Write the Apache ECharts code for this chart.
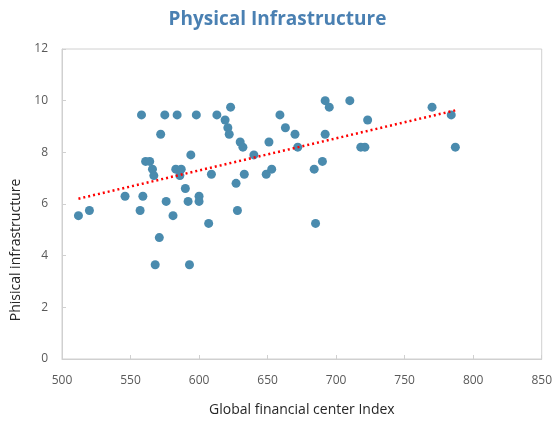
<!DOCTYPE html>
<html>
<head>
<meta charset="utf-8">
<script src="https://cdn.jsdelivr.net/npm/echarts@6/dist/echarts.min.js"></script>
<style>
  html, body { margin: 0; padding: 0; background: #fff; }
  #chart { width: 555px; height: 427px; }
</style>
</head>
<body>
<div id="chart"></div>
<script>
const gfci = [
  512, 520, 546, 557, 559, 558, 561, 564, 566, 567, 572, 571, 568, 575, 576, 581,
  584, 583, 587, 586, 590, 592, 594, 593, 598, 600, 600, 607, 609, 613, 619, 621,
  622, 623, 627, 628, 630, 632, 633, 640, 649, 653, 651, 659, 663, 670, 672, 684,
  685, 690, 692, 692, 695, 710, 723, 718, 721, 770, 784, 787
];
const infra = [
  5.55, 5.75, 6.3, 5.75, 6.3, 9.45, 7.65, 7.65, 7.35, 7.1, 8.7, 4.7, 3.65, 9.45, 6.1, 5.55,
  9.45, 7.35, 7.35, 7.1, 6.6, 6.1, 7.9, 3.65, 9.45, 6.3, 6.1, 5.25, 7.15, 9.45, 9.25, 8.95,
  8.7, 9.75, 6.8, 5.75, 8.4, 8.2, 7.15, 7.9, 7.15, 7.35, 8.4, 9.45, 8.95, 8.7, 8.2, 7.35,
  5.25, 7.65, 8.7, 10.0, 9.75, 10.0, 9.25, 8.2, 8.2, 9.75, 9.45, 8.2
];
const xTicks = [500, 850, 50];
const yTicks = [0, 12, 2];

const points = gfci.map((x, i) => [x, infra[i]]);

// least squares trendline over the data range
function trend(xs, ys) {
  const n = xs.length;
  const mx = xs.reduce((a, b) => a + b, 0) / n;
  const my = ys.reduce((a, b) => a + b, 0) / n;
  let sxy = 0, sxx = 0;
  xs.forEach((x, i) => { sxy += (x - mx) * (ys[i] - my); sxx += (x - mx) * (x - mx); });
  const b = sxy / sxx;
  const a = my - b * mx;
  const lo = Math.min(...xs), hi = Math.max(...xs);
  return [[lo, a + b * lo], [hi, a + b * hi]];
}

const gray = "#595959";
const lineGray = "#d0d0d0";
const chart = echarts.init(document.getElementById("chart"));

chart.setOption({
  animation: false,
  textStyle: { fontFamily: "Open Sans, Noto Sans, sans-serif" },
  title: {
    text: "Physical Infrastructure",
    left: "center",
    top: 5,
    textStyle: { color: "#4a80b2", fontSize: 19, fontWeight: "bold", fontFamily: "Open Sans, sans-serif" }
  },
  grid: { left: 62, right: 13, top: 49, bottom: 68, show: true, borderColor: lineGray, borderWidth: 1 },
  xAxis: {
    type: "value",
    min: xTicks[0],
    max: xTicks[1],
    interval: xTicks[2],
    name: "Global financial center Index",
    nameLocation: "middle",
    nameGap: 44,
    nameTextStyle: { color: "#262626", fontSize: 14 },
    axisLine: { show: true, lineStyle: { color: lineGray } },
    axisTick: { show: true, inside: true, length: 4, lineStyle: { color: lineGray } },
    axisLabel: { color: gray, fontSize: 12, margin: 16 },
    splitLine: { show: false }
  },
  yAxis: {
    type: "value",
    min: yTicks[0],
    max: yTicks[1],
    interval: yTicks[2],
    name: "Phisical infrastructure",
    nameLocation: "middle",
    nameGap: 36,
    nameTextStyle: { color: "#262626", fontSize: 14, padding: [0, 92, 0, 0] },
    axisLine: { show: true, lineStyle: { color: lineGray } },
    axisTick: { show: true, inside: true, length: 4, lineStyle: { color: lineGray } },
    axisLabel: { color: gray, fontSize: 12, margin: 14 },
    splitLine: { show: false }
  },
  series: [
    {
      type: "scatter",
      data: points,
      symbolSize: 9,
      itemStyle: { color: "#4a8bae", opacity: 1 },
      z: 2
    },
    {
      type: "line",
      data: trend(gfci, infra),
      symbol: "none",
      lineStyle: { color: "#ff0000", width: 2.5, type: [2, 3] },
      z: 3
    }
  ]
});
</script>
</body>
</html>
